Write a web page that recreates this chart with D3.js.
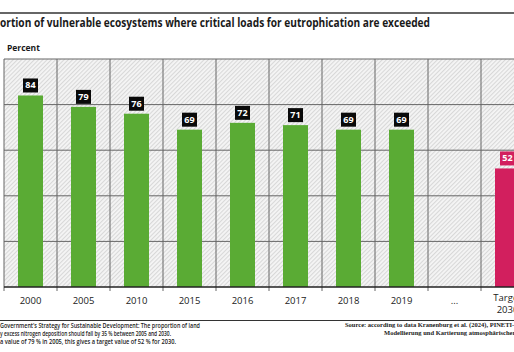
<!DOCTYPE html>
<html>
<head>
<meta charset="utf-8">
<script src="https://cdn.jsdelivr.net/npm/d3@7"></script>
<style>
  body { margin: 0; background: #fff; }
  svg { display: block; font-family: "Open Sans", "Noto Sans", sans-serif; }
</style>
</head>
<body>
<div id="chart"></div>
<script>
const categories = ["2000", "2005", "2010", "2015", "2016", "2017", "2018", "2019", "...", "Target 2030"];
const values = [84, 79, 76, 69, 72, 71, 69, 69, null, 52];
const yTicks = [0, 20, 40, 60, 80, 100];
const titleText = "Proportion of vulnerable ecosystems where critical loads for eutrophication are exceeded";
const noteLines = [
    "Government's Strategy for Sustainable Development: The proportion of land",
    "y excess nitrogen deposition should fall by 35 % between 2005 and 2030.",
    "a value of  79 % in 2005, this gives a target value of 52 % for 2030."
];
const sourceLines = [
    "Source: according to data Kranenburg et al. (2024), PINETI-4, Final report",
    "Modellierung und Kartierung atmosphärischer Stoffeinträge"
];

const W = 514, H = 352;
const svg = d3.select("#chart").append("svg")
    .attr("width", W).attr("height", H);

// hatched background pattern
const pat = svg.append("defs").append("pattern")
    .attr("id", "hatch")
    .attr("patternUnits", "userSpaceOnUse")
    .attr("width", 3).attr("height", 3)
    .attr("patternTransform", "rotate(45)");
pat.append("rect").attr("width", 3).attr("height", 3).attr("fill", "#f5f5f5");
pat.append("rect").attr("width", 1.1).attr("height", 3).attr("fill", "#d8d8d8");

const x = d3.scaleBand()
    .domain(categories)
    .range([4, 534])
    .paddingInner(28 / 53)
    .paddingOuter(14 / 53);
const step = x.step();

const y = d3.scaleLinear().domain([0, 100]).range([287, 59]);

// plot background
svg.append("rect")
    .attr("x", 4).attr("y", y(100))
    .attr("width", 530).attr("height", y(0) - y(100))
    .attr("fill", "url(#hatch)");

// horizontal gridlines
svg.append("g").selectAll("line")
    .data(yTicks.filter(d => d > 0))
    .join("line")
    .attr("x1", 4).attr("x2", 534)
    .attr("y1", d => y(d)).attr("y2", d => y(d))
    .attr("stroke", "#666").attr("stroke-width", 1);

// vertical gridlines + ticks
const vPos = d3.range(categories.length + 1).map(i => 4 + i * step);
svg.append("g").selectAll("line")
    .data(vPos)
    .join("line")
    .attr("x1", d => d).attr("x2", d => d)
    .attr("y1", y(100)).attr("y2", y(0) + 4)
    .attr("stroke", "#666").attr("stroke-width", 1);

// bars
const data = categories.map((c, i) => ({ cat: c, value: values[i], target: c.startsWith("Target") }))
    .filter(d => d.value != null);

svg.append("g").selectAll("rect")
    .data(data)
    .join("rect")
    .attr("x", d => x(d.cat))
    .attr("y", d => y(d.value))
    .attr("width", x.bandwidth())
    .attr("height", d => y(0) - y(d.value))
    .attr("fill", d => d.target ? "#d21f5e" : "#5aab34");

// value labels
const lab = svg.append("g").selectAll("g")
    .data(data)
    .join("g")
    .attr("transform", d => `translate(${x(d.cat) + x.bandwidth() / 2},${y(d.value) - 3})`);
lab.append("rect")
    .attr("x", -7.5).attr("y", -14)
    .attr("width", 15).attr("height", 14)
    .attr("fill", d => d.target ? "#d21f5e" : "#0a0a0a");
lab.append("text")
    .attr("y", -4)
    .attr("text-anchor", "middle")
    .attr("fill", "#fff")
    .attr("font-size", 9)
    .attr("font-weight", "bold")
    .text(d => d.value);

// x axis line
svg.append("line")
    .attr("x1", 4).attr("x2", 534)
    .attr("y1", y(0)).attr("y2", y(0))
    .attr("stroke", "#222").attr("stroke-width", 1.3);

// x labels
const xl = svg.append("g").selectAll("text")
    .data(categories)
    .join("text")
    .attr("x", d => x(d) + x.bandwidth() / 2)
    .attr("y", d => d.startsWith("Target") ? 301 : 304)
    .attr("text-anchor", "middle")
    .attr("font-size", 9.5)
    .attr("fill", "#222");
xl.each(function(d) {
    const parts = d.split(" ");
    const t = d3.select(this);
    parts.forEach((p, i) => {
        t.append("tspan")
            .attr("x", x(d) + x.bandwidth() / 2)
            .attr("dy", i === 0 ? 0 : 11.5)
            .text(p);
    });
});

// top rule
svg.append("line")
    .attr("x1", 0).attr("x2", W)
    .attr("y1", 13).attr("y2", 13)
    .attr("stroke", "#333").attr("stroke-width", 1.5);

// title (left part is cut off by the frame)
const title = svg.append("text")
    .attr("y", 27)
    .attr("font-size", 12.5)
    .attr("font-weight", "bold")
    .attr("fill", "#1a1a1a")
    .text(titleText);
const full = title.node().getComputedTextLength();
const cut = title.node().getSubStringLength(0, 4);
const sc = 430 / (full - cut);
title.attr("textLength", full * sc)
    .attr("lengthAdjust", "spacingAndGlyphs")
    .attr("x", -cut * sc);

svg.append("text")
    .attr("x", 7).attr("y", 51)
    .attr("font-size", 8.5)
    .attr("font-weight", "bold")
    .attr("fill", "#1a1a1a")
    .text("Percent");

// separator
svg.append("line")
    .attr("x1", 0).attr("x2", W)
    .attr("y1", 320.5).attr("y2", 320.5)
    .attr("stroke", "#333").attr("stroke-width", 1);

// footnote
const noteWidths = [200, 171, 176];
svg.append("g").selectAll("text")
    .data(noteLines)
    .join("text")
    .attr("x", 0)
    .attr("y", (d, i) => 327.5 + i * 8.3)
    .attr("font-size", 6.8)
    .attr("font-weight", 600)
    .attr("fill", "#222")
    .attr("textLength", (d, i) => noteWidths[i])
    .attr("lengthAdjust", "spacingAndGlyphs")
    .text(d => d);

// source
svg.append("g").selectAll("text")
    .data(sourceLines)
    .join("text")
    .attr("x", (d, i) => i === 0 ? 345 : 384)
    .attr("y", (d, i) => 327 + i * 8.3)
    .attr("font-size", 6.5)
    .attr("font-weight", "bold")
    .attr("font-family", "'Liberation Serif', 'DejaVu Serif', serif")
    .attr("fill", "#222")
    .text(d => d);
</script>
</body>
</html>
